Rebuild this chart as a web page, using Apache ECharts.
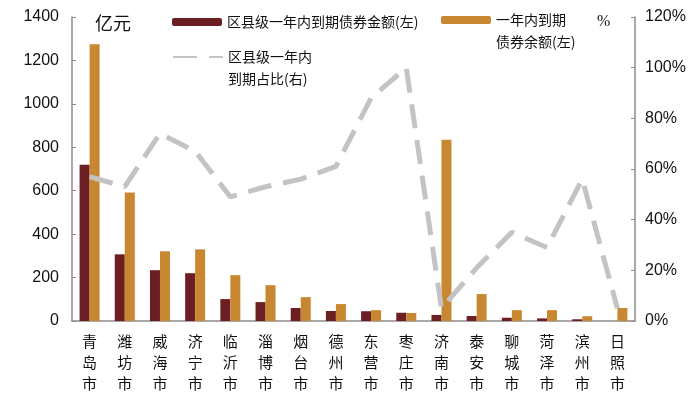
<!DOCTYPE html>
<html><head><meta charset="utf-8">
<script src="https://cdn.jsdelivr.net/npm/echarts@6/dist/echarts.min.js"></script>
<style>html,body{margin:0;padding:0;background:#fff}#c{width:700px;height:407px}</style>
</head><body><div id="c"></div>
<script>
const categories = ['青岛市','潍坊市','威海市','济宁市','临沂市','淄博市','烟台市','德州市','东营市','枣庄市','济南市','泰安市','聊城市','菏泽市','滨州市','日照市'];
const countyAmount = [720, 307, 234, 220, 101, 87, 60, 46, 45, 38, 28, 23, 15, 12, 8, 0];
const totalAmount = [1275, 592, 321, 330, 211, 165, 110, 78, 50, 37, 835, 124, 50, 50, 22, 60];
const countyShare = [57, 53, 74, 67, 49, 53, 56, 61, 88, 100, 5, 21, 35, 29, 56, 5];
const leftTicks = [0, 200, 400, 600, 800, 1000, 1200, 1400];
const rightTicks = [0, 20, 40, 60, 80, 100, 120];

const nameA = '区县级一年内到期债券金额(左)';
const nameB = '一年内到期\n债券余额(左)';
const nameC = '区县级一年内\n到期占比(右)';
const cjk = '"Noto Sans CJK SC", sans-serif';
const num = '"Liberation Sans Narrow", "Liberation Sans", sans-serif';
const axisColor = '#8c8c8c';

const chart = echarts.init(document.getElementById('c'));
chart.setOption({
  animation: false,
  textStyle: {fontFamily: cjk},
  grid: {left: 72, right: 65, top: 17, bottom: 86},
  legend: [
    {data: [nameA], left: 167, top: 10, itemWidth: 50, itemHeight: 8,
     textStyle: {fontFamily: cjk, fontSize: 14, color: '#111'}},
    {data: [nameB], left: 436, top: -18, itemWidth: 50, itemHeight: 8,
     formatter: n => '\n' + n,
     textStyle: {fontFamily: cjk, fontSize: 14, color: '#111', lineHeight: 22}},
    {data: [nameC], left: 167, top: 19, itemWidth: 50, itemHeight: 8,
     formatter: n => '\n' + n, itemStyle: {opacity: 0},
     textStyle: {fontFamily: cjk, fontSize: 14, color: '#111', lineHeight: 22}}
  ],
  graphic: [
    {type: 'text', left: 95, top: 14, style: {text: '亿元', font: '18px "Noto Sans CJK SC"', fill: '#111'}},
    {type: 'text', left: 597, top: 14, style: {text: '%', font: '16px "Liberation Sans Narrow"', fill: '#111'}}
  ],
  xAxis: {
    type: 'category', data: categories,
    axisLine: {lineStyle: {color: axisColor, width: 1.5}},
    axisTick: {inside: true, length: 4, lineStyle: {color: axisColor}},
    axisLabel: {interval: 0, margin: 10, fontFamily: cjk, fontSize: 15, lineHeight: 21, color: '#111',
      formatter: v => v.split('').join('\n')}
  },
  yAxis: [
    {type: 'value', min: 0, max: 1400, interval: 200,
     axisLine: {show: true, lineStyle: {color: axisColor, width: 1.5}},
     axisTick: {show: true, inside: true, length: 4, lineStyle: {color: axisColor}},
     splitLine: {show: false},
     axisLabel: {margin: 13, fontFamily: num, fontSize: 16, color: '#111',
       formatter: v => leftTicks.includes(v) ? String(v) : ''}},
    {type: 'value', min: 0, max: 120, interval: 20, position: 'right',
     axisLine: {show: true, lineStyle: {color: axisColor, width: 1.5}},
     axisTick: {show: true, inside: true, length: 4, lineStyle: {color: axisColor}},
     splitLine: {show: false},
     axisLabel: {margin: 10, fontFamily: num, fontSize: 16, color: '#111',
       formatter: v => rightTicks.includes(v) ? v + '%' : ''}}
  ],
  series: [
    {name: nameA, type: 'bar', data: countyAmount, barWidth: 10, barGap: '0%',
     itemStyle: {color: '#6B1F22'}},
    {name: nameB, type: 'bar', data: totalAmount, barWidth: 10,
     itemStyle: {color: '#C98732'}},
    {name: nameC, type: 'line', yAxisIndex: 1, data: countyShare, symbol: 'none',
     lineStyle: {color: '#C3C3C3', width: 5, type: [24, 12]}, itemStyle: {color: '#C3C3C3'}, z: 5}
  ]
});
</script></body></html>
